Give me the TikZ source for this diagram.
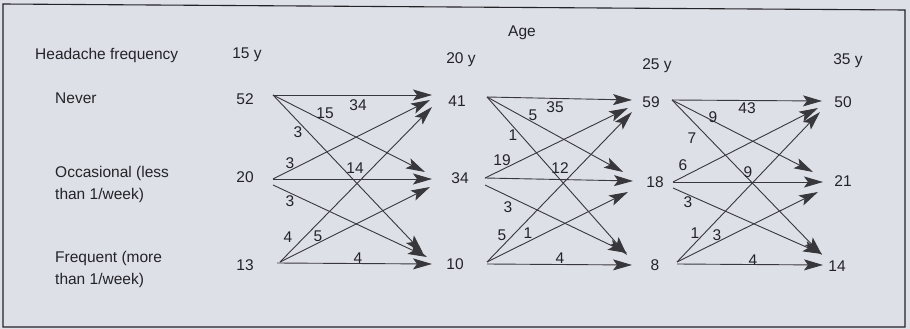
\documentclass[tikz,border=0pt]{standalone}
\usepackage{fontspec}
\setmainfont{Liberation Sans}
\usetikzlibrary{arrows.meta}
\definecolor{paper}{RGB}{222,224,231}
\definecolor{ink}{RGB}{35,35,40}
\definecolor{wire}{RGB}{55,55,60}
\begin{document}
\begin{tikzpicture}[x=1pt, y=-1pt,
  num/.style={text=ink, inner sep=0pt, font=\fontsize{15.5}{22}\selectfont},
  lbl/.style={text=ink, inner sep=0pt, font=\fontsize{15.5}{22}\selectfont},
  row/.style={text=ink, inner sep=0pt, anchor=west, align=left, font=\fontsize{15.5}{22}\selectfont},
  flow/.style={draw=wire, line width=0.9pt, -{Stealth[length=19pt,width=11pt,inset=4pt]}}]
\fill[paper] (0,0) rectangle (910,329);
\useasboundingbox (0,0) rectangle (910,329);
\draw[ink, line width=1.1pt] (3,4) -- (905,10) -- (905,327) -- (3,327) -- cycle;

% headings
\node[lbl] (age) at (522,33) {Age};
\node[lbl, anchor=west] (hf) at (35,55) {Headache frequency};
\node[lbl] (y15) at (247,55) {15 y};
\node[lbl] (y20) at (461,60) {20 y};
\node[lbl] (y25) at (657,66) {25 y};
\node[lbl] (y35) at (848,61) {35 y};

% frequency classes
\node[row] (never) at (55,98) {Never};
\node[row] (occ) at (55,184) {Occasional (less\\than 1/week)};
\node[row] (freq) at (55,269) {Frequent (more\\than 1/week)};

% counts per age
\node[num] (a1) at (245,99) {52};
\node[num] (a2) at (245,177) {20};
\node[num] (a3) at (245,265) {13};
\node[num] (b1) at (457,101) {41};
\node[num] (b2) at (460,178) {34};
\node[num] (b3) at (455,264) {10};
\node[num] (c1) at (651,102) {59};
\node[num] (c2) at (655,182) {18};
\node[num] (c3) at (655,265) {8};
\node[num] (d1) at (843,102) {50};
\node[num] (d2) at (843,181) {21};
\node[num] (d3) at (837,266) {14};

% 15 y -> 20 y
\draw[flow] ([shift={(28,-4)}]a1.center) -- ([shift={(-25,-6)}]b1.center);
\draw[flow] ([shift={(28,-4)}]a1.center) -- ([shift={(-35,-6)}]b2.center);
\draw[flow] ([shift={(28,-4)}]a1.center) -- ([shift={(-32,-11)}]b3.center);
\draw[flow] ([shift={(28,2)}]a2.center) -- ([shift={(-27,-1)}]b1.center);
\draw[flow] ([shift={(28,2)}]a2.center) -- ([shift={(-28,1)}]b2.center);
\draw[flow] ([shift={(28,8)}]a2.center) -- ([shift={(-28,-7)}]b3.center);
\draw[flow] ([shift={(35,-3)}]a3.center) -- ([shift={(-25,6)}]b1.center);
\draw[flow] ([shift={(35,-3)}]a3.center) -- ([shift={(-30,9)}]b2.center);
\draw[flow] ([shift={(32,-2)}]a3.center) -- ([shift={(-23,0)}]b3.center);
\node[num] (f11) at (358,105) {34};
\node[num] (f12) at (325,113) {15};
\node[num] (f13) at (298,132) {3};
\node[num] (f21) at (290,163) {3};
\node[num] (f22) at (355,168) {14};
\node[num] (f23) at (290,201) {3};
\node[num] (f31) at (288,237) {4};
\node[num] (f32) at (318,236) {5};
\node[num] (f33) at (358,258) {4};

% 20 y -> 25 y
\draw[flow] ([shift={(30,-4)}]b1.center) -- ([shift={(-19,-2)}]c1.center);
\draw[flow] ([shift={(30,-4)}]b1.center) -- ([shift={(-32,-10)}]c2.center);
\draw[flow] ([shift={(30,-4)}]b1.center) -- ([shift={(-28,-10)}]c3.center);
\draw[flow] ([shift={(25,0)}]b2.center) -- ([shift={(-23,6)}]c1.center);
\draw[flow] ([shift={(25,0)}]b2.center) -- ([shift={(-22,-1)}]c2.center);
\draw[flow] ([shift={(25,7)}]b2.center) -- ([shift={(-28,-12)}]c3.center);
\draw[flow] ([shift={(32,-2)}]b3.center) -- ([shift={(-19,10)}]c1.center);
\draw[flow] ([shift={(32,-2)}]b3.center) -- ([shift={(-27,10)}]c2.center);
\draw[flow] ([shift={(32,0)}]b3.center) -- ([shift={(-23,0)}]c3.center);
\node[num] (g11) at (555,107) {35};
\node[num] (g12) at (533,115) {5};
\node[num] (g13) at (513,135) {1};
\node[num] (g21) at (502,160) {19};
\node[num] (g22) at (560,168) {12};
\node[num] (g23) at (508,207) {3};
\node[num] (g31) at (502,235) {5};
\node[num] (g32) at (528,233) {1};
\node[num] (g33) at (560,258) {4};

% 25 y -> 35 y
\draw[flow] ([shift={(21,-2)}]c1.center) -- ([shift={(-21,-1)}]d1.center);
\draw[flow] ([shift={(21,-2)}]c1.center) -- ([shift={(-30,-9)}]d2.center);
\draw[flow] ([shift={(21,-2)}]c1.center) -- ([shift={(-15,-11)}]d3.center);
\draw[flow] ([shift={(18,0)}]c2.center) -- ([shift={(-25,6)}]d1.center);
\draw[flow] ([shift={(18,0)}]c2.center) -- ([shift={(-20,1)}]d2.center);
\draw[flow] ([shift={(18,6)}]c2.center) -- ([shift={(-15,-12)}]d3.center);
\draw[flow] ([shift={(22,-3)}]c3.center) -- ([shift={(-23,10)}]d1.center);
\draw[flow] ([shift={(22,-3)}]c3.center) -- ([shift={(-25,11)}]d2.center);
\draw[flow] ([shift={(22,-1)}]c3.center) -- ([shift={(-14,-1)}]d3.center);
\node[num] (h11) at (747,108) {43};
\node[num] (h12) at (713,117) {9};
\node[num] (h13) at (692,138) {7};
\node[num] (h21) at (683,165) {6};
\node[num] (h22) at (748,172) {9};
\node[num] (h23) at (688,202) {3};
\node[num] (h31) at (695,233) {1};
\node[num] (h32) at (717,235) {3};
\node[num] (h33) at (753,260) {4};
\end{tikzpicture}
\end{document}
